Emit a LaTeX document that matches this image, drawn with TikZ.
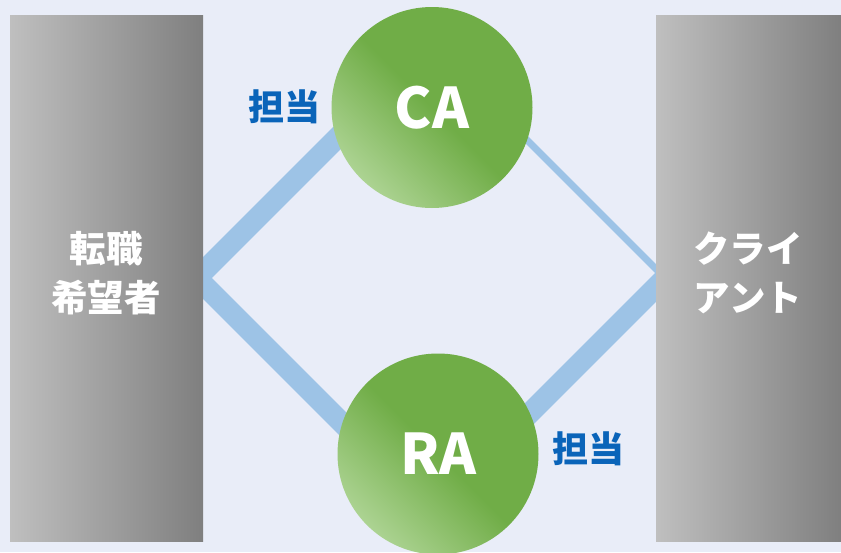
\documentclass[tikz,border=0pt]{standalone}
\usepackage{fontspec}
\newfontfamily\jp{Noto Sans CJK JP}
\definecolor{bg}{RGB}{233,237,248}
\definecolor{ln}{RGB}{157,195,230}
\definecolor{gl}{RGB}{191,191,191}
\definecolor{gd}{RGB}{127,127,127}
\definecolor{grl}{RGB}{172,211,146}
\definecolor{grd}{RGB}{112,173,71}
\definecolor{tb}{RGB}{10,100,185}
\begin{document}
\begin{tikzpicture}[x=1pt,y=-1pt,
  side/.style={rectangle, inner sep=0pt, left color=gl, right color=gd, draw=none},
  agent/.style={circle, inner sep=0pt, minimum size=201pt, bottom color=grl, top color=grd, middle color=grd, shading angle=-45, text=white, font=\jp\bfseries\fontsize{56}{60}\selectfont},
  boxtext/.style={text=white, align=center, font=\jp\bfseries\fontsize{36.5}{49}\selectfont},
  tanto/.style={text=tb, font=\jp\bfseries\fontsize{36}{40}\selectfont},
  link/.style={draw=ln, line width=21pt},
  thinlink/.style={draw=ln, line width=7pt}]
\fill[bg] (0,0) rectangle (841,552);
\useasboundingbox (0,0) rectangle (841,552);
\coordinate (L) at (197,278);
\coordinate (T) at (431,44);
\coordinate (R) at (665,278);
\coordinate (B) at (431,512);
\draw[thinlink] (T) -- (R);
\draw[link] (T) -- (L) -- (B) -- (R);
\node[side, minimum width=193pt, minimum height=526pt] (left) at (106.5,278) {};
\node[side, minimum width=186pt, minimum height=526pt] (right) at (749,278) {};
\node[boxtext] (lt) at (106,273) {転職\\希望者};
\node[boxtext] (rt) at (748,273) {クライ\\アント};
\node[agent] (ca) at (432,107.5) {CA};
\node[agent] (ra) at (438,454) {RA};
\node[tanto] (t1) at (284,107) {担当};
\node[tanto] (t2) at (588,449) {担当};
\end{tikzpicture}
\end{document}
